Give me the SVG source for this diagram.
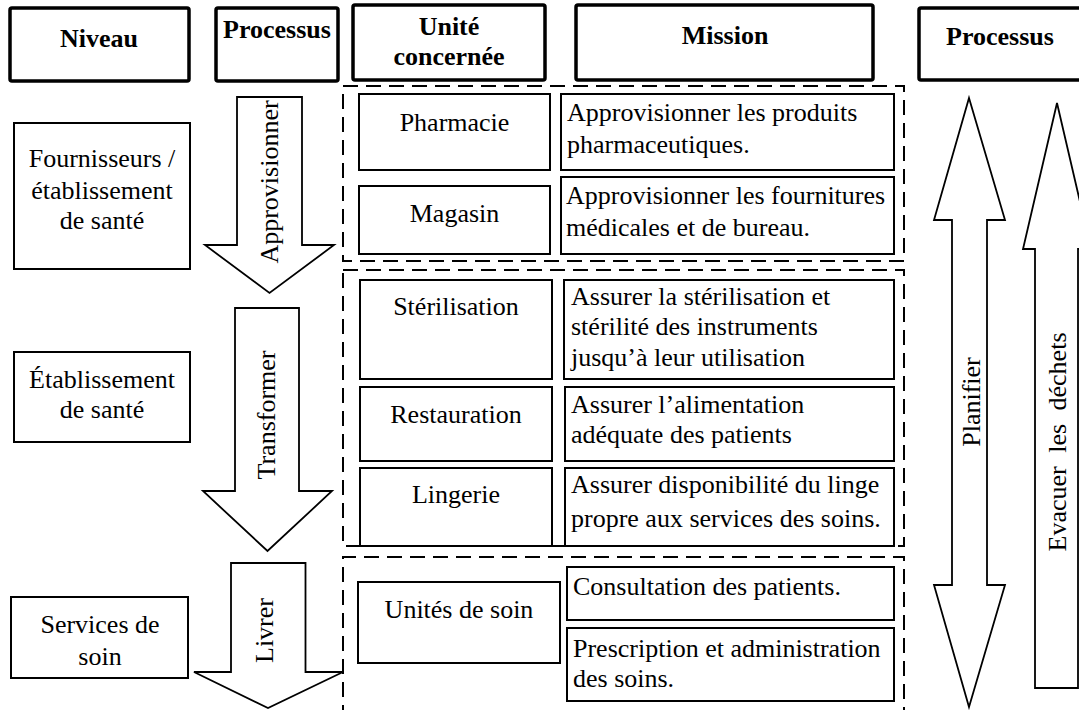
<svg xmlns="http://www.w3.org/2000/svg" width="1079" height="710" viewBox="0 0 1079 710">
<style>
.t{font-size:26px;fill:#000}
.h{font-weight:bold;text-anchor:middle}
.c{text-anchor:middle}
.hb{fill:#fff;stroke:#000;stroke-width:3.5}
.b{fill:#fff;stroke:#000;stroke-width:2}
.d{fill:none;stroke:#000;stroke-width:2;stroke-dasharray:15 8}
.ar{fill:#fff;stroke:#000;stroke-width:1.8;stroke-linejoin:miter}
</style>
<rect width="1079" height="710" fill="#fff"/>
<g font-family="'Liberation Serif', Tinos, 'Times New Roman', Times, 'DejaVu Serif', serif" class="t">

<g id="headers">
<g id="h-niveau"><rect class="hb" x="10" y="8" width="179" height="73" rx="2"/><text class="h" x="99" y="47">Niveau</text></g>
<g id="h-processus1"><rect class="hb" x="216" y="8" width="122" height="73" rx="2"/><text class="h" x="277" y="38">Processus</text></g>
<g id="h-unite"><rect class="hb" x="353" y="5" width="192" height="75" rx="2"/><text class="h" x="449" y="35">Unité</text><text class="h" x="449" y="65">concernée</text></g>
<g id="h-mission"><rect class="hb" x="576" y="5" width="297" height="75" rx="2"/><text class="h" x="725" y="44">Mission</text></g>
<g id="h-processus2"><rect class="hb" x="919" y="8" width="164" height="72" rx="2"/><text class="h" x="1000" y="45">Processus</text></g>
</g>

<g id="groups">
<rect class="d" x="343" y="86" width="561" height="175"/>
<rect class="d" x="343" y="270" width="561" height="276"/>
<path class="d" d="M343,720 L343,557 L904,557 L904,720"/>
</g>

<g id="niveaux">
<g id="n-fournisseurs"><rect class="b" x="14" y="123" width="176" height="146"/>
<text class="c" x="102" y="167">Fournisseurs /</text><text class="c" x="102" y="199">établissement</text><text class="c" x="102" y="229">de santé</text></g>
<g id="n-etablissement"><rect class="b" x="14" y="352" width="176" height="90"/>
<text class="c" x="102" y="388">Établissement</text><text class="c" x="102" y="418">de santé</text></g>
<g id="n-services"><rect class="b" x="11" y="597" width="177" height="81"/>
<text class="c" x="100" y="633">Services de</text><text class="c" x="100" y="665">soin</text></g>
</g>

<g id="connectors">
<g id="a-approvisionner"><path class="ar" d="M237,97 L302,97 L302,245 L334,245 L269.5,293 L205,245 L237,245 Z"/>
<text class="c" transform="translate(278,182) rotate(-90)">Approvisionner</text></g>
<g id="a-transformer"><path class="ar" d="M235,308 L299,308 L299,491 L332,491 L267.5,551 L203,491 L235,491 Z"/>
<text class="c" transform="translate(275,415) rotate(-90)">Transformer</text></g>
<g id="a-livrer"><path class="ar" d="M231,563 L305.5,563 L305.5,672 L343,672 L268,708 L194,672 L231,672 Z"/>
<text class="c" transform="translate(272.5,630.5) rotate(-90)">Livrer</text></g>
<g id="a-planifier"><path class="ar" d="M969,98 L1005,220 L987,220 L987,585 L1005,585 L969,707 L934,585 L952,585 L952,220 L934,220 Z"/>
<text class="c" transform="translate(980,402) rotate(-90)">Planifier</text></g>
<g id="a-evacuer"><path class="ar" d="M1057,103 L1091,249 L1078,249 L1078,688 L1035,688 L1035,249 L1023,249 Z"/>
<text class="c" transform="translate(1066,442) rotate(-90)" word-spacing="7">Evacuer les déchets</text></g>
</g>

<g id="unites">
<g id="u-pharmacie"><rect class="b" x="359" y="94" width="191" height="76"/><text class="c" x="454.5" y="131">Pharmacie</text></g>
<g id="u-magasin"><rect class="b" x="359" y="186" width="191" height="68"/><text class="c" x="454.5" y="222">Magasin</text></g>
<g id="u-sterilisation"><rect class="b" x="360" y="280" width="192" height="99"/><text class="c" x="456" y="315">Stérilisation</text></g>
<g id="u-restauration"><rect class="b" x="360" y="387" width="192" height="74"/><text class="c" x="456" y="423">Restauration</text></g>
<g id="u-lingerie"><rect class="b" x="360" y="468" width="192" height="78"/><text class="c" x="456" y="503">Lingerie</text></g>
<g id="u-unites"><rect class="b" x="358" y="582" width="202" height="81"/><text class="c" x="459" y="618">Unités de soin</text></g>
</g>

<g id="missions">
<g id="m-pharmacie"><rect class="b" x="561" y="94" width="333" height="76"/>
<text x="567" y="121">Approvisionner les produits</text><text x="567" y="153">pharmaceutiques.</text></g>
<g id="m-magasin"><rect class="b" x="561" y="177" width="333" height="77"/>
<text x="566" y="204">Approvisionner les fournitures</text><text x="566" y="236">médicales et de bureau.</text></g>
<g id="m-sterilisation"><rect class="b" x="564" y="280" width="330" height="99"/>
<text x="571" y="305">Assurer la stérilisation et</text><text x="571" y="335">stérilité des instruments</text><text x="571" y="366">jusqu’à leur utilisation</text></g>
<g id="m-restauration"><rect class="b" x="565" y="387" width="329" height="74"/>
<text x="571" y="413">Assurer l’alimentation</text><text x="571" y="443">adéquate des patients</text></g>
<g id="m-lingerie"><rect class="b" x="565" y="468" width="329" height="78"/>
<text x="571" y="493">Assurer disponibilité du linge</text><text x="571" y="527">propre aux services des soins.</text></g>
<g id="m-consultation"><rect class="b" x="567" y="567" width="327" height="53"/>
<text x="573" y="595">Consultation des patients.</text></g>
<g id="m-prescription"><rect class="b" x="567" y="628" width="327" height="73"/>
<text x="573" y="657">Prescription et administration</text><text x="573" y="687">des soins.</text></g>
</g>
</g>
</svg>
